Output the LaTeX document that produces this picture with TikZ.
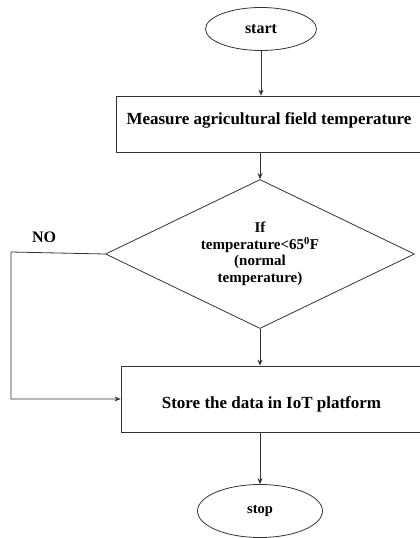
\documentclass[tikz,border=0pt]{standalone}
\usepackage{fontspec}
\setmainfont{Liberation Serif}
\usetikzlibrary{shapes.geometric,arrows.meta}
\begin{document}
\begin{tikzpicture}[x=1pt,y=-1pt,
  every node/.style={font=\bfseries},
  line/.style={draw=black!80,line width=0.8pt},
  arr/.style={line,-{Stealth[length=6pt,width=5pt]}},
  term/.style={ellipse,line,inner sep=0pt},
  procbox/.style={rectangle,line,inner sep=0pt,font=\fontsize{17}{20}\selectfont\bfseries},
  decide/.style={diamond,line,inner sep=0pt,aspect=2,align=center,font=\fontsize{15}{16.3}\selectfont\bfseries}]
\useasboundingbox (0,0) rectangle (420,538);
\node[term,minimum width=111pt,minimum height=43pt,font=\fontsize{16}{18}\selectfont\bfseries] (s) at (261,29) {start};
\node[procbox,minimum width=306pt,minimum height=56pt] (b1) at (269,124) {\raisebox{4pt}[\height][\depth]{Measure agricultural field temperature}};
\node[decide,minimum width=309pt,minimum height=149pt] (d) at (260,254) {\begin{tabular}{@{}c@{}}If\\temperature<65\textsuperscript{0}F\\(normal\\temperature)\end{tabular}};
\node[procbox,minimum width=301pt,minimum height=66pt] (b2) at (271.5,399) {\raisebox{-5pt}[\height][\depth]{Store the data in IoT platform}};
\node[term,minimum width=125pt,minimum height=53pt,font=\fontsize{14.5}{16}\selectfont\bfseries] (t) at (260,511) {stop};
\node[font=\fontsize{16}{18}\selectfont\bfseries] (no) at (44,237) {NO};
\coordinate (nc) at (11,252);
\draw[arr] (s.south) -- (s.south |- b1.north);
\draw[arr] (d.north |- b1.south) -- (d.north);
\draw[arr] (d.south) -- (d.south |- b2.north);
\draw[arr] (t.north |- b2.south) -- (t.north);
\draw[arr] (d.west) -- (nc) |- (b2.west);
\end{tikzpicture}
\end{document}
